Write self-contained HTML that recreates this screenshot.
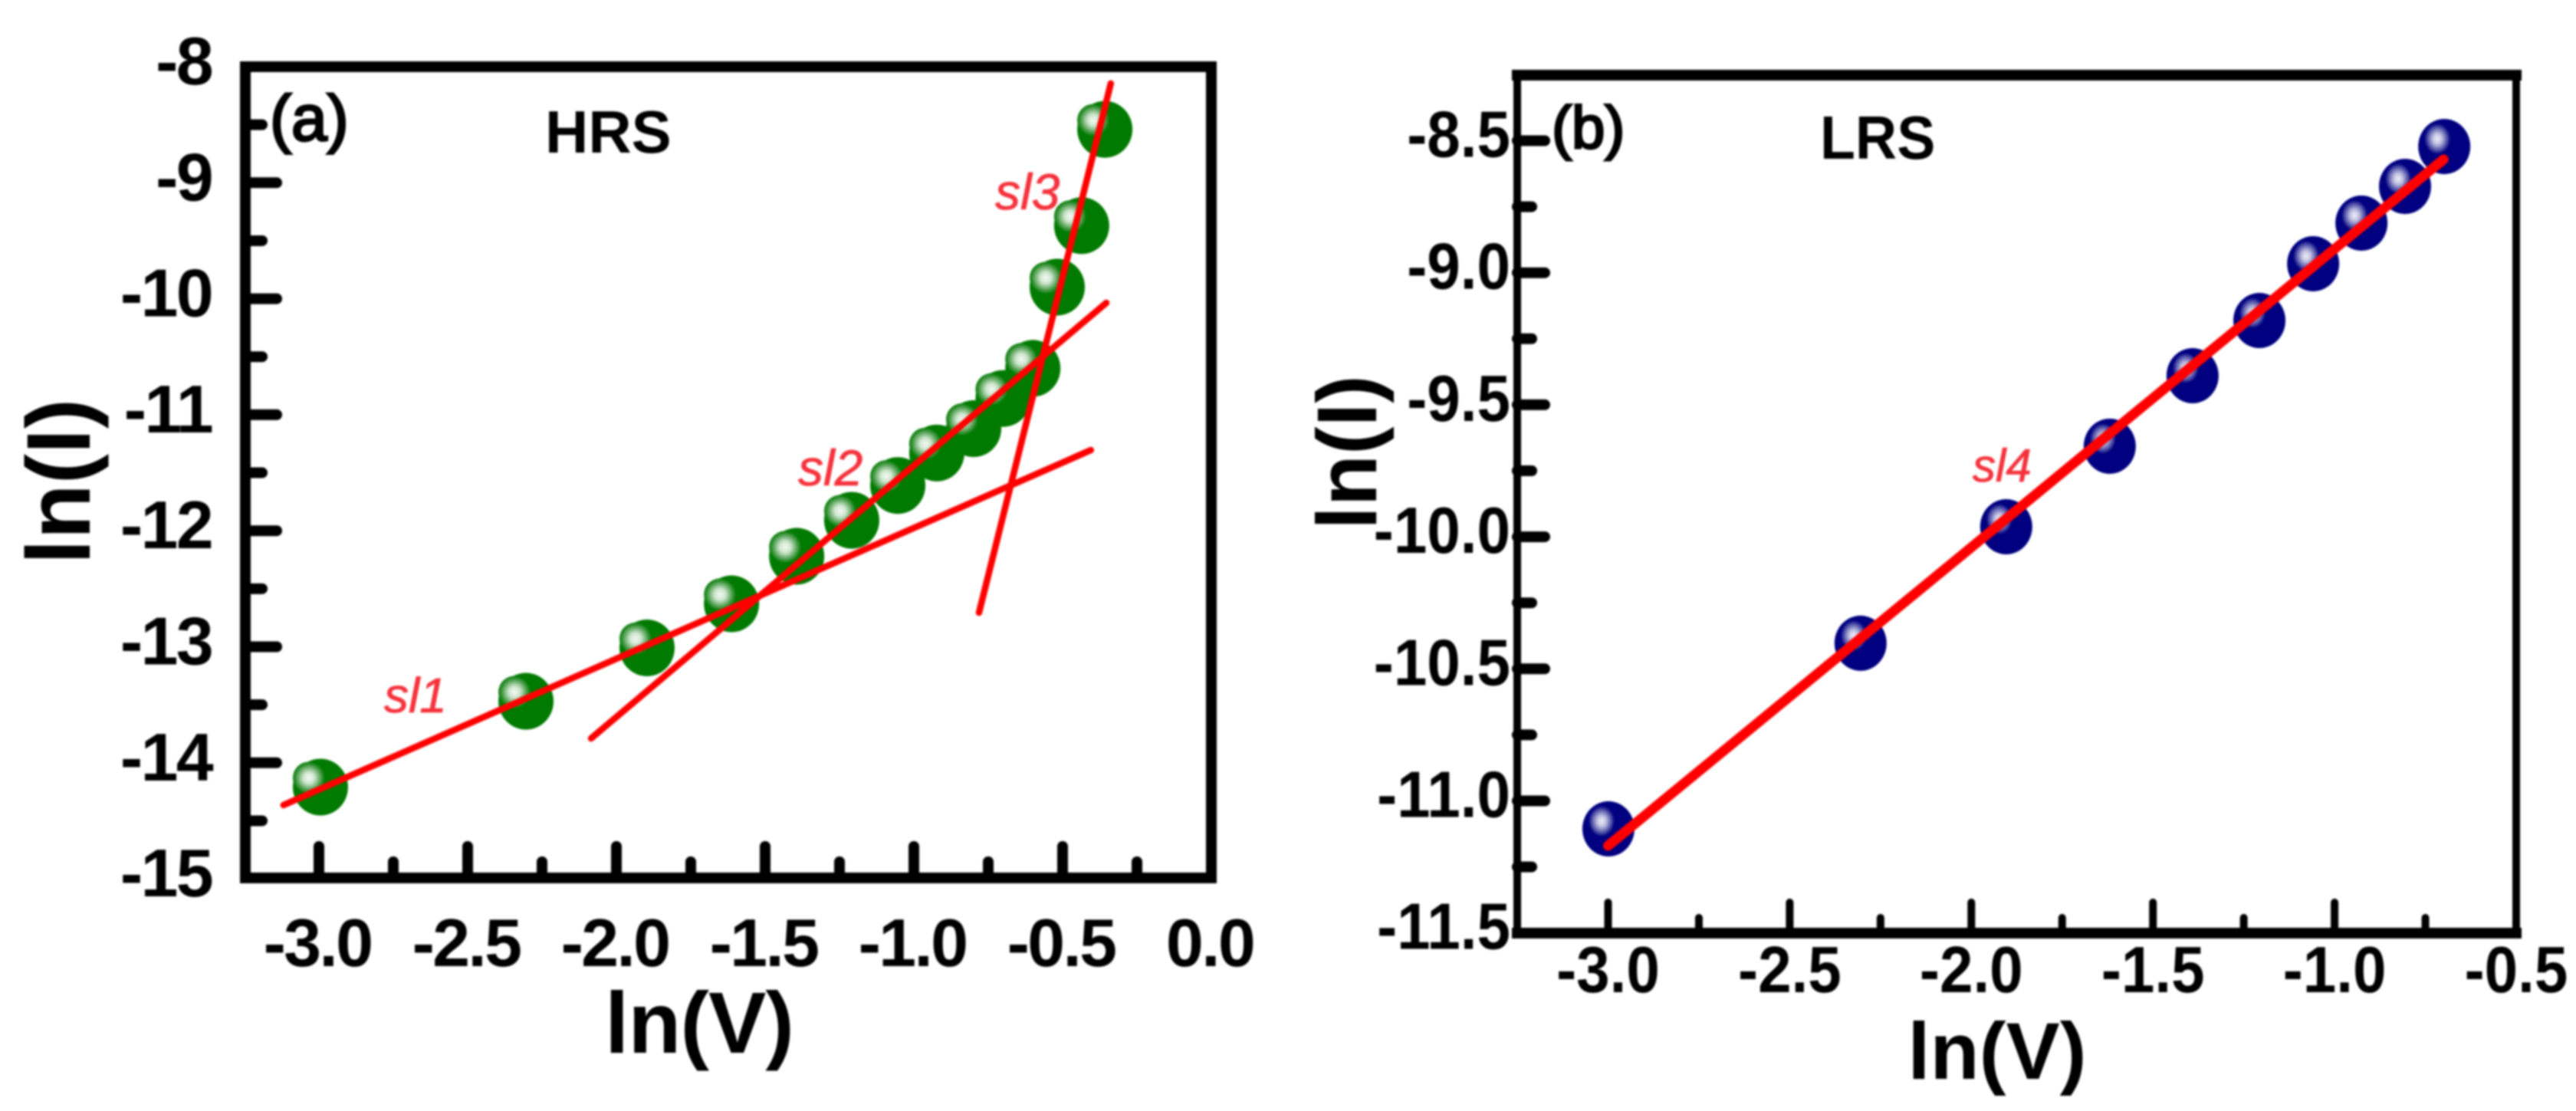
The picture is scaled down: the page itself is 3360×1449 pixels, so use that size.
<!DOCTYPE html>
<html lang="en">
<head>
<meta charset="utf-8">
<title>ln(I) vs ln(V) for HRS and LRS</title>
<style>
html,body{margin:0;padding:0;background:#fff;}
svg{display:block;filter:blur(1.2px);}
text{font-family:"Liberation Sans",sans-serif;}
</style>
</head>
<body>
<svg id="chart" xmlns="http://www.w3.org/2000/svg" width="3360" height="1449" viewBox="0 0 3360 1449">
  <defs>
    <radialGradient id="glow-green">
      <stop offset="0" stop-color="#f4faf4"/>
      <stop offset="0.35" stop-color="#cfe6cf"/>
      <stop offset="0.75" stop-color="#4f9f4f"/>
      <stop offset="1" stop-color="#007a00"/>
    </radialGradient>
    <radialGradient id="glow-blue">
      <stop offset="0" stop-color="#f0f0fa"/>
      <stop offset="0.35" stop-color="#c0c0e0"/>
      <stop offset="0.75" stop-color="#5050a8"/>
      <stop offset="1" stop-color="#000080"/>
    </radialGradient>
  </defs>
  <rect x="0" y="0" width="3360" height="1449" fill="#ffffff"/>
  <g id="panel-a"></g>
  <g id="panel-b"></g>

  <text x="352" y="183" font-size="84" fill="#000" stroke="#000" stroke-width="3">(a)</text>
  <text x="711" y="199" font-size="78" font-weight="700" fill="#000">HRS</text>
  <text x="912" y="1373" font-size="113" font-weight="700" text-anchor="middle" letter-spacing="-1">ln(V)</text>
  <text transform="translate(117,628) rotate(-90)" font-size="118" font-weight="700" text-anchor="middle">ln(I)</text>
  <text x="501" y="929" font-size="64" font-style="italic" fill="#f5323c" stroke="#f5323c" stroke-width="0.8">sl1</text>
  <text x="1041" y="633" font-size="66" font-style="italic" fill="#f5323c" stroke="#f5323c" stroke-width="0.8">sl2</text>
  <text x="1298" y="273" font-size="66" font-style="italic" fill="#f5323c" stroke="#f5323c" stroke-width="0.8">sl3</text>

  <text x="2024" y="193" font-size="78" fill="#000" stroke="#000" stroke-width="3">(b)</text>
  <text transform="translate(2374,207) scale(0.94,1)" font-size="80" font-weight="700" fill="#000">LRS</text>
  <text x="2605" y="1407" font-size="105" font-weight="700" text-anchor="middle">ln(V)</text>
  <text transform="translate(1795,590) rotate(-90)" font-size="110" font-weight="700" text-anchor="middle">ln(I)</text>
  <text x="2573" y="628" font-size="60" font-style="italic" fill="#f5323c" stroke="#f5323c" stroke-width="0.8">sl4</text>
</svg>

<script>
// ---- Panel (a) HRS data ----
const hrsV = [-2.995, -2.304, -1.897, -1.613, -1.394, -1.209, -1.054, -0.923, -0.799, -0.70, -0.60, -0.518, -0.436, -0.358];
const hrsI = [-14.21, -13.47, -13.01, -12.63, -12.22, -11.91, -11.61, -11.33, -11.12, -10.86, -10.60, -9.90, -9.37, -8.54];
const hrsFitSl1V = [-3.119, -0.405];
const hrsFitSl1I = [-14.365, -11.305];
const hrsFitSl2V = [-2.085, -0.353];
const hrsFitSl2I = [-13.79, -10.036];
const hrsFitSl3V = [-0.781, -0.338];
const hrsFitSl3I = [-12.706, -8.145];
const hrsXTicks = ['-3.0', '-2.5', '-2.0', '-1.5', '-1.0', '-0.5', '0.0'];
const hrsXMinor = [-2.75, -2.25, -1.75, -1.25, -0.75, -0.25];
const hrsYTicks = ['-8', '-9', '-10', '-11', '-12', '-13', '-14', '-15'];
const hrsYMinor = [-8.5, -9.5, -10.5, -11.5, -12.5, -13.5, -14.5];

// ---- Panel (b) LRS data ----
const lrsV = [-2.999, -2.305, -1.904, -1.619, -1.391, -1.207, -1.059, -0.926, -0.806, -0.698];
const lrsI = [-11.106, -10.403, -9.962, -9.657, -9.39, -9.181, -8.966, -8.812, -8.673, -8.522];
const lrsFitSl4V = [-3.0, -0.70];
const lrsFitSl4I = [-11.17, -8.571];
const lrsXTicks = ['-3.0', '-2.5', '-2.0', '-1.5', '-1.0', '-0.5'];
const lrsXMinor = [-2.75, -2.25, -1.75, -1.25, -0.75];
const lrsYTicks = ['-8.5', '-9.0', '-9.5', '-10.0', '-10.5', '-11.0', '-11.5'];
const lrsYMinor = [-8.75, -9.25, -9.75, -10.25, -10.75, -11.25];

const NS = 'http://www.w3.org/2000/svg';
function make(tag, attrs, parent) {
  const n = document.createElementNS(NS, tag);
  for (const k in attrs) n.setAttribute(k, attrs[k]);
  parent.appendChild(n);
  return n;
}
function hrsXScale(v) { return 416 + (v + 3) * 388; }
function hrsYScale(v) { return 87 + (-8 - v) * 151.3; }
function lrsXScale(v) { return 2097.5 + (v + 3) * 473.8; }
function lrsYScale(v) { return 183.5 + (-8.5 - v) * 344.4; }

function drawPanel(g, c) {
  // frame
  const edges = [
    [c.left, c.top, c.right, c.top, c.hw, 'top'],
    [c.left, c.bottom, c.right, c.bottom, c.hw, 'bottom'],
    [c.left, c.top, c.left, c.bottom, c.vw, 'left'],
    [c.right, c.top, c.right, c.bottom, c.vw, 'right']
  ];
  edges.forEach(function (e) {
    const axisLine = make('line', {x1: e[0], y1: e[1], x2: e[2], y2: e[3], stroke: '#000', 'stroke-width': e[4], 'stroke-linecap': 'square'}, g);
    
    
  });
  // x ticks
  c.xTicks.forEach(function (lab) {
    const px = c.x(parseFloat(lab));
    if (px < c.right - 10) {
      const tick = make('line', {x1: px, y1: c.bottom, x2: px, y2: c.xMajorEnd, stroke: '#000', 'stroke-width': c.xTickW, 'stroke-linecap': 'round'}, g);
      
      
    }
    const label = make('text', {transform: 'translate(' + (px + c.xLabelDx) + ',' + c.xLabelY + ') scale(' + c.labelSx + ',1)', 'font-size': c.labelSize, 'font-weight': 700, 'text-anchor': 'middle', 'letter-spacing': c.labelSpacing, fill: '#000'}, g);
    label.textContent = lab;
    
    
  });
  c.xMinor.forEach(function (v) {
    const px = c.x(v);
    const tick = make('line', {x1: px, y1: c.bottom, x2: px, y2: c.xMinorEnd, stroke: '#000', 'stroke-width': c.xTickW, 'stroke-linecap': 'round'}, g);
    
    
  });
  // y ticks
  c.yTicks.forEach(function (lab) {
    const py = c.y(parseFloat(lab));
    if (py > c.top + 10 && py < c.bottom - 10) {
      const tick = make('line', {x1: c.left, y1: py, x2: c.yMajorEnd, y2: py, stroke: '#000', 'stroke-width': c.yTickW, 'stroke-linecap': 'round'}, g);
      
      
    }
    const label = make('text', {transform: 'translate(' + c.yLabelX + ',' + (py + c.yLabelDy) + ') scale(' + c.labelSx + ',1)', 'font-size': c.labelSize, 'font-weight': 700, 'text-anchor': 'end', 'letter-spacing': c.labelSpacing, fill: '#000'}, g);
    label.textContent = lab;
    
    
  });
  c.yMinor.forEach(function (v) {
    const py = c.y(v);
    const tick = make('line', {x1: c.left, y1: py, x2: c.yMinorEnd, y2: py, stroke: '#000', 'stroke-width': c.yTickW, 'stroke-linecap': 'round'}, g);
    
    
  });
  // data points
  c.vs.forEach(function (v, i) {
    const cx = c.x(v);
    const cy = c.y(c.is[i]);
    const point = make('ellipse', {cx: cx, cy: cy, rx: c.rx, ry: c.ry, fill: c.color}, g);
    
    
    const shine = make('ellipse', {cx: cx + c.hiDx, cy: cy + c.hiDy, rx: c.hiRx, ry: c.hiRy, fill: c.glow}, g);
    
    
  });
  // fit lines
  c.fits.forEach(function (f) {
    const fit = make('line', {x1: c.x(f.v[0]), y1: c.y(f.i[0]), x2: c.x(f.v[1]), y2: c.y(f.i[1]), stroke: '#ff0000', 'stroke-width': c.fitW, 'stroke-linecap': 'round'}, g);
    
    
  });
}

drawPanel(document.getElementById('panel-a'), {
  x: hrsXScale, y: hrsYScale, left: 320, right: 1580, top: 87, bottom: 1145,
  hw: 14, vw: 14, xTickW: 14, yTickW: 14,
  xMajorEnd: 1104, xMinorEnd: 1124, yMajorEnd: 361, yMinorEnd: 342,
  xTicks: hrsXTicks, xMinor: hrsXMinor, yTicks: hrsYTicks, yMinor: hrsYMinor,
  labelSize: 88, labelSx: 1, labelSpacing: -2.7, xLabelY: 1260, xLabelDx: -2, yLabelX: 276, yLabelDy: 23,
  vs: hrsV, is: hrsI, rx: 36, ry: 37, color: '#007a00', glow: 'url(#glow-green)',
  hiDx: -15, hiDy: -12, hiRx: 21, hiRy: 21, fitW: 8.5,
  fits: [
    {name: 'sl1', v: hrsFitSl1V, i: hrsFitSl1I},
    {name: 'sl2', v: hrsFitSl2V, i: hrsFitSl2I},
    {name: 'sl3', v: hrsFitSl3V, i: hrsFitSl3I}
  ]
});

drawPanel(document.getElementById('panel-b'), {
  x: lrsXScale, y: lrsYScale, left: 1979, right: 3282, top: 98, bottom: 1217,
  hw: 14, vw: 10, xTickW: 10, yTickW: 14,
  xMajorEnd: 1177, xMinorEnd: 1197, yMajorEnd: 2015, yMinorEnd: 1998,
  xTicks: lrsXTicks, xMinor: lrsXMinor, yTicks: lrsYTicks, yMinor: lrsYMinor,
  labelSize: 85, labelSx: 0.92, labelSpacing: 0, xLabelY: 1294, xLabelDx: 0, yLabelX: 1970, yLabelDy: 21,
  vs: lrsV, is: lrsI, rx: 34, ry: 36, color: '#000080', glow: 'url(#glow-blue)',
  hiDx: -9, hiDy: -10, hiRx: 17, hiRy: 20, fitW: 13,
  fits: [
    {name: 'sl4', v: lrsFitSl4V, i: lrsFitSl4I}
  ]
});
</script>
</body>
</html>
